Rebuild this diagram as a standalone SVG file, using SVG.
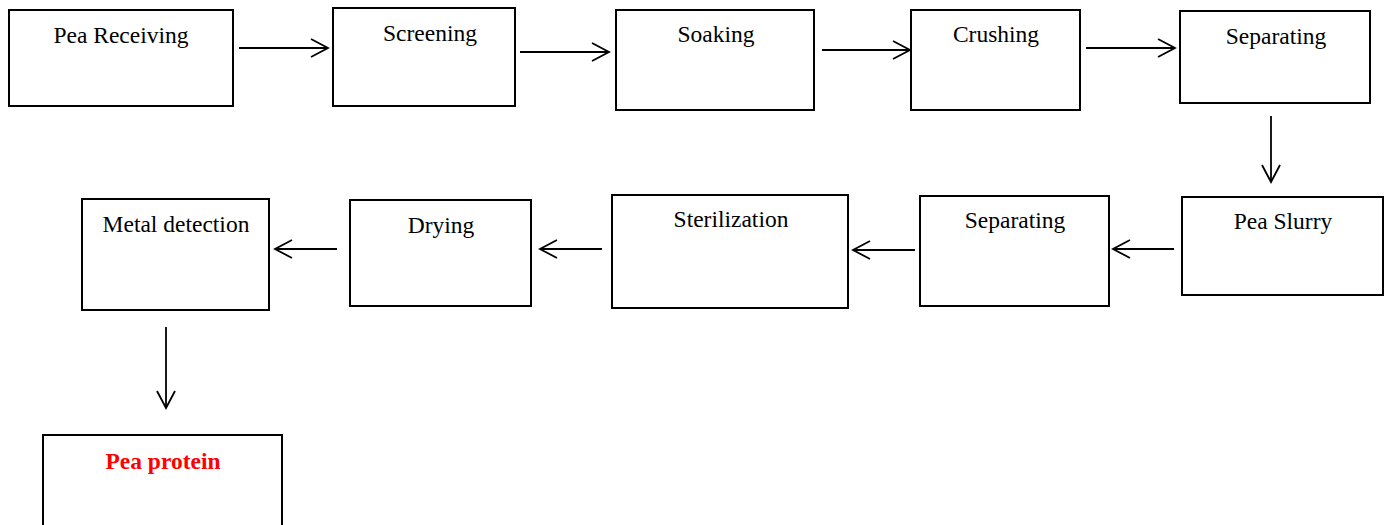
<svg xmlns="http://www.w3.org/2000/svg" width="1391" height="525" viewBox="0 0 1391 525">
<style>
rect{fill:#fff;stroke:#000;stroke-width:2}
text{font-family:"Liberation Serif","Times New Roman",serif;font-size:23.5px;fill:#000;text-anchor:middle}
.red{fill:#ff0000;font-weight:bold}
.c line,.c path{stroke:#000;stroke-width:1.8;fill:none}
</style>
<g id="n1"><rect x="9" y="10" width="224" height="96"/><text x="121" y="43">Pea Receiving</text></g>
<g id="n2"><rect x="333" y="8" width="182" height="98"/><text x="430" y="41">Screening</text></g>
<g id="n3"><rect x="616" y="10" width="198" height="100"/><text x="716" y="42">Soaking</text></g>
<g id="n4"><rect x="911" y="10" width="169" height="100"/><text x="996" y="42">Crushing</text></g>
<g id="n5"><rect x="1180" y="11" width="190" height="92"/><text x="1276" y="44">Separating</text></g>
<g id="n6"><rect x="1182" y="197" width="201" height="98"/><text x="1283" y="229">Pea Slurry</text></g>
<g id="n7"><rect x="920" y="196" width="189" height="110"/><text x="1015" y="228">Separating</text></g>
<g id="n8"><rect x="612" y="195" width="236" height="113"/><text x="731" y="227">Sterilization</text></g>
<g id="n9"><rect x="350" y="200" width="181" height="106"/><text x="441" y="233">Drying</text></g>
<g id="n10"><rect x="82" y="199" width="187" height="111"/><text x="176" y="232">Metal detection</text></g>
<g id="n11"><rect x="43" y="435" width="239" height="100"/><text class="red" x="163" y="469">Pea protein</text></g>
<g id="connectors" class="c">
<line x1="239" y1="48" x2="328" y2="48"/><path d="M311 39 L328 48 L311 57"/>
<line x1="520" y1="52" x2="609" y2="52"/><path d="M592 43 L609 52 L592 61"/>
<line x1="822" y1="50" x2="910" y2="50"/><path d="M893 41 L910 50 L893 59"/>
<line x1="1086" y1="48" x2="1175" y2="48"/><path d="M1158 39 L1175 48 L1158 57"/>
<line x1="1271" y1="116" x2="1271" y2="182"/><path d="M1262 165 L1271 182 L1280 165"/>
<line x1="1174" y1="249" x2="1113" y2="249"/><path d="M1130 240 L1113 249 L1130 258"/>
<line x1="915" y1="250" x2="853" y2="250"/><path d="M870 241 L853 250 L870 259"/>
<line x1="602" y1="249" x2="540" y2="249"/><path d="M557 240 L540 249 L557 258"/>
<line x1="337" y1="249" x2="275" y2="249"/><path d="M292 240 L275 249 L292 258"/>
<line x1="166" y1="327" x2="166" y2="408"/><path d="M157 391 L166 408 L175 391"/>
</g>
</svg>
